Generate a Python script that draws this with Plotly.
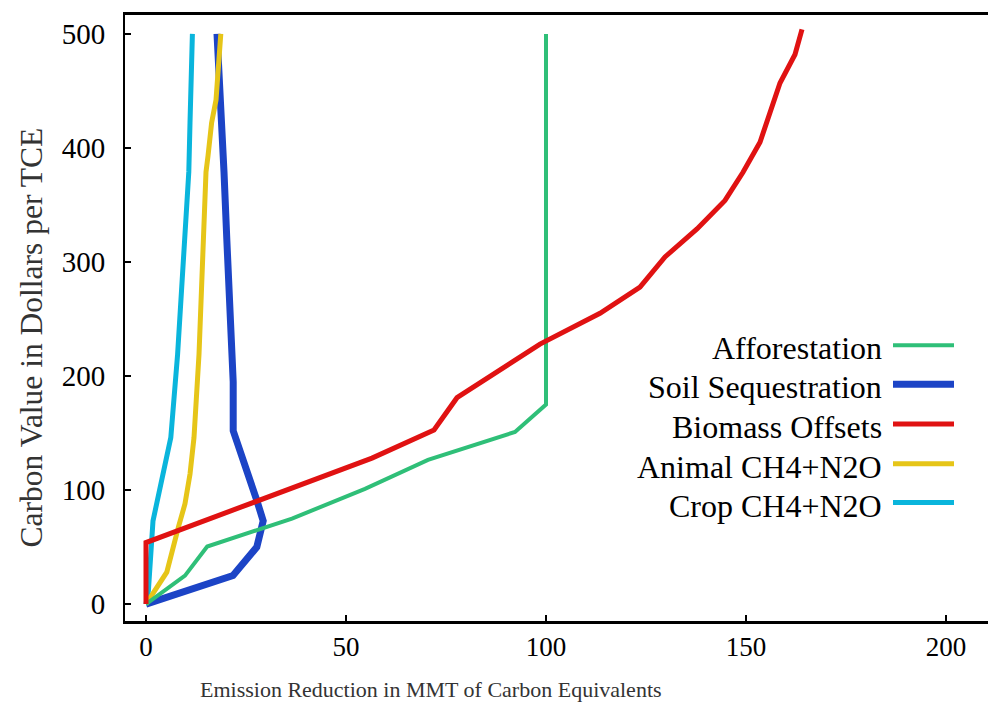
import plotly.graph_objects as go

# ---- data ----
series_names = ["Afforestation", "Soil Sequestration", "Biomass Offsets", "Animal CH4+N2O", "Crop CH4+N2O"]

afforestation_x = [0, 9.75, 15.3, 36.5, 54.75, 70.5, 92.25, 100, 100]
afforestation_y = [0, 25, 50.5, 75, 101, 126.5, 151, 175, 500]

soil_x = [0, 21.75, 27.7, 29.3, 27.7, 21.8, 21.8, 20.75, 20.2, 19.5, 18.9, 18.5, 17.75]
soil_y = [0, 25, 50, 73, 91, 152, 195, 262, 320, 379, 422, 466, 500]

biomass_x = [0, 0, 56.5, 72, 77.75, 98.5, 113.5, 123.5, 129.75, 137.75, 144.75, 149.25, 153.5, 158.5, 162.25, 164]
biomass_y = [0, 54, 128, 152.7, 181, 228, 255, 278, 304.5, 329, 354, 378.7, 405, 457, 482, 504]

animal_x = [0, 5.2, 8.1, 9.75, 11, 12, 13.25, 13.9, 14.5, 15, 15.5, 16.4, 17.5, 18, 18.7]
animal_y = [0, 28, 67.5, 88, 114, 146, 219, 277, 335, 379, 393, 422, 442, 466, 500]

crop_x = [0, 0.6, 1.75, 4.25, 6.2, 7.9, 8.9, 10, 10.7, 11, 11.3, 11.6]
crop_y = [0, 12, 73, 114, 146, 219, 277, 335, 379, 422, 466, 500]

x_ticks = [0, 50, 100, 150, 200]
y_ticks = [0, 100, 200, 300, 400, 500]

x_title = "Emission Reduction in MMT of Carbon Equivalents"
y_title = "Carbon Value in Dollars per TCE"

colors = {
    "Afforestation": "#2fbf78",
    "Soil Sequestration": "#1c44c6",
    "Biomass Offsets": "#e01212",
    "Animal CH4+N2O": "#e6c518",
    "Crop CH4+N2O": "#0ab5dc",
}
widths = {
    "Afforestation": 4,
    "Soil Sequestration": 7,
    "Biomass Offsets": 5,
    "Animal CH4+N2O": 5,
    "Crop CH4+N2O": 5,
}
data = {
    "Afforestation": (afforestation_x, afforestation_y),
    "Soil Sequestration": (soil_x, soil_y),
    "Biomass Offsets": (biomass_x, biomass_y),
    "Animal CH4+N2O": (animal_x, animal_y),
    "Crop CH4+N2O": (crop_x, crop_y),
}
draw_order = ["Soil Sequestration", "Crop CH4+N2O", "Animal CH4+N2O", "Afforestation", "Biomass Offsets"]

FONT = "Liberation Serif, Times New Roman, serif"
W, H = 996, 711
OFF = 8  # page body margin
L, R, T, B = 117, 8, 4, 98

fig = go.Figure()
for name in draw_order:
    xs, ys = data[name]
    fig.add_trace(go.Scatter(x=xs, y=ys, mode="lines", name=name,
                             line=dict(color=colors[name], width=widths[name]),
                             showlegend=False))

# helpers: window pixel coords -> paper coords
pw = W - L - R
ph = H - T - B
def px_x(p):
    return (p - OFF - L) / pw
def px_y(p):
    return (H - B - (p - OFF)) / ph

# manual legend: text right-aligned, line sample on the right
legend_y = [347, 386, 426, 466, 505]
for name, yy in zip(series_names, legend_y):
    fig.add_annotation(x=px_x(884), y=px_y(yy), xref="paper", yref="paper",
                       text=name, showarrow=False, xanchor="right", yanchor="middle",
                       font=dict(family=FONT, size=32, color="#000"))
    fig.add_shape(type="line", xref="paper", yref="paper",
                  x0=px_x(893), x1=px_x(954), y0=px_y(yy - 3), y1=px_y(yy - 3),
                  line=dict(color=colors[name], width=widths[name]))

# axis titles
fig.add_annotation(x=px_x(431), y=px_y(690), xref="paper", yref="paper",
                   text=x_title, showarrow=False, xanchor="center", yanchor="middle",
                   font=dict(family=FONT, size=22, color="#333"))
fig.add_annotation(x=px_x(31), y=px_y(336), xref="paper", yref="paper",
                   text=y_title, showarrow=False, xanchor="center", yanchor="middle",
                   textangle=-90, font=dict(family=FONT, size=31.5, color="#333"))

fig.update_layout(
    width=W, height=H,
    margin=dict(l=L, r=R, t=T, b=B),
    paper_bgcolor="white", plot_bgcolor="white",
    font=dict(family=FONT, color="#000"),
    xaxis=dict(range=[-5.25, 212.5], tickvals=x_ticks, ticks="inside", ticklen=6,
               tickwidth=1.5, tickcolor="#000", showline=True, linecolor="#000",
               linewidth=2.5, mirror=True, showgrid=False, zeroline=False,
               tickfont=dict(family=FONT, size=27)),
    yaxis=dict(range=[-14.8, 516.6], tickvals=y_ticks, ticks="inside", ticklen=6,
               tickwidth=1.5, tickcolor="#000", showline=True, linecolor="#000",
               linewidth=2, showgrid=False, zeroline=False,
               ticklabelstandoff=12,
               tickfont=dict(family=FONT, size=29)),
)

fig.write_html("out.html")
